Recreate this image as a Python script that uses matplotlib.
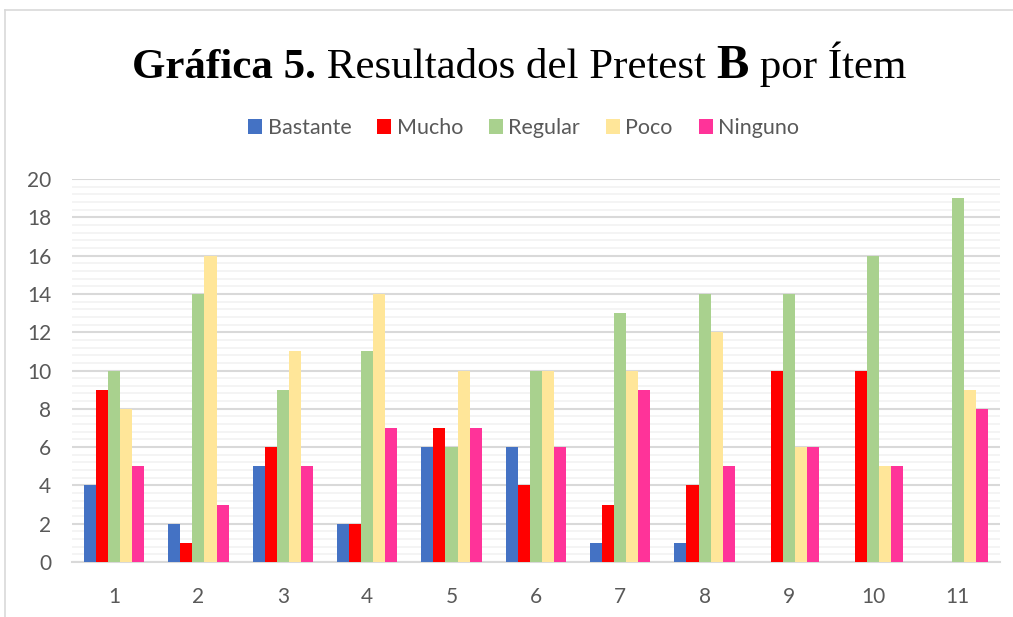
import numpy as np
import matplotlib
matplotlib.use('Agg')
import matplotlib.pyplot as plt
from matplotlib.lines import Line2D
from matplotlib.patches import Patch

# Data
items = ['1', '2', '3', '4', '5', '6', '7', '8', '9', '10', '11']
series_names = ['Bastante', 'Mucho', 'Regular', 'Poco', 'Ninguno']
bastante = [4, 2, 5, 2, 6, 6, 1, 1, 0, 0, 0]
mucho = [9, 1, 6, 2, 7, 4, 3, 4, 10, 10, 0]
regular = [10, 14, 9, 11, 6, 10, 13, 14, 14, 16, 19]
poco = [8, 16, 11, 14, 10, 10, 10, 12, 6, 5, 9]
ninguno = [5, 3, 5, 7, 7, 6, 9, 5, 6, 5, 8]
colors = ['#4472C4', '#FF0000', '#A9D18E', '#FFE699', '#FF3399']

fig = plt.figure(figsize=(10.13, 6.17), dpi=100)
ax = fig.add_axes([0.071, 0.089, 0.916, 0.621])

x = np.arange(1, len(items) + 1)
bw = 0.143
for i, vals in enumerate([bastante, mucho, regular, poco, ninguno]):
    ax.bar(x + (i - 2) * bw, vals, width=bw, color=colors[i], zorder=3)

ax.set_xlim(0.5, 11.5)
ax.set_ylim(0, 20)
ax.set_yticks(np.arange(0, 21, 2))
ax.set_yticks(np.arange(0, 20.01, 0.4), minor=True)
ax.set_xticks(x)
ax.set_xticklabels(items)
ax.grid(axis='y', which='minor', color='#F2F2F2', lw=1.2, zorder=0)
ax.grid(axis='y', which='major', color='#D9D9D9', lw=1.5, zorder=1)
for s in ['top', 'right', 'left']:
    ax.spines[s].set_visible(False)
ax.spines['bottom'].set_color('#D9D9D9')
ax.spines['bottom'].set_linewidth(1.5)
ax.tick_params(axis='both', which='both', length=0, labelsize=15, labelcolor='#595959')
ax.tick_params(axis='x', pad=18)
ax.tick_params(axis='y', pad=15)
for lab in ax.get_xticklabels() + ax.get_yticklabels():
    lab.set_family('Lato')

# Legend
handles = [Patch(facecolor=c) for c in colors]
leg = fig.legend(handles, series_names, loc='center', bbox_to_anchor=(0.517, 1 - 128 / 617),
                 ncol=5, frameon=False, handlelength=0.65, handleheight=0.65,
                 handletextpad=0.25, columnspacing=1.2,
                 prop={'family': 'Lato', 'size': 15.5})
for t in leg.get_texts():
    t.set_color('#595959')

# Title with mixed bold / regular pieces
pieces = [('Gráfica 5.', 'bold', 31), (' Resultados del Pretest ', 'normal', 31),
          ('B', 'bold', 35), (' por Ítem', 'normal', 31)]
renderer = fig.canvas.get_renderer()
texts = []
widths = []
for s, w, fs in pieces:
    t = fig.text(0, 1 - 78 / 617, s, fontsize=fs, fontweight=w, family='Liberation Serif',
                 va='baseline', ha='left', color='black')
    bb = t.get_window_extent(renderer)
    texts.append(t)
    widths.append(bb.width)
total = sum(widths)
start = 519 - total / 2
for t, w in zip(texts, widths):
    t.set_x(start / 1013)
    start += w

# Outer chart frame
fig.add_artist(Line2D([5 / 1013, 5 / 1013], [0, 1 - 10 / 617], color='#D9D9D9', lw=1.2))
fig.add_artist(Line2D([5 / 1013, 1], [1 - 10 / 617, 1 - 10 / 617], color='#D9D9D9', lw=1.2))

fig.savefig('out.png', dpi=100)
